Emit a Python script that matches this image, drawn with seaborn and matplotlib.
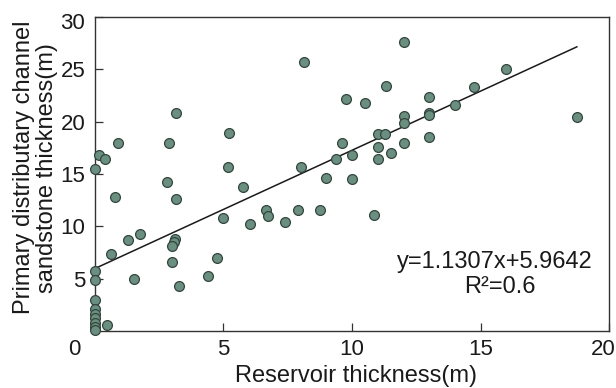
import matplotlib
matplotlib.use('Agg')
import matplotlib.pyplot as plt
import matplotlib.transforms as mtransforms
import seaborn as sns
import pandas as pd

# reservoir thickness (m)
res_thick = [0, 0, 0, 0, 0, 0, 0, 0, 0, 0,
             0.15, 0.4, 0.89, 0.77, 0.47, 0.63, 1.28, 1.74, 1.51,
             2.9, 2.8, 3.14, 3.14, 3.13, 3.06, 3.0, 3.0, 3.28, 4.39, 4.76, 5.0,
             5.16, 5.22, 5.76, 6.02, 6.64, 6.75, 7.38, 7.89, 8.0, 8.13, 8.76,
             9.0, 9.38, 9.62, 9.77, 10.0, 10.0, 10.49, 10.87,
             11.0, 11.27, 11.02, 11.02, 11.5, 11.32, 12.02, 12.02, 12.02, 12.03,
             12.99, 12.99, 12.99, 12.99, 13.99, 14.76, 16.0, 18.75]
# primary distributary channel sandstone thickness (m)
sand_thick = [15.5, 5.7, 4.9, 3.0, 2.1, 1.6, 1.2, 0.8, 0.4, 0.1,
              16.85, 16.45, 17.97, 12.85, 0.54, 7.4, 8.7, 9.28, 4.93,
              17.97, 14.2, 12.66, 20.8, 8.75, 8.49, 8.14, 6.62, 4.34, 5.3, 6.99, 10.75,
              15.7, 18.92, 13.77, 10.2, 11.6, 10.97, 10.4, 11.53, 15.68, 25.7, 11.55,
              14.6, 16.46, 17.98, 22.14, 16.86, 14.55, 21.78, 11.13,
              18.8, 18.8, 17.59, 16.44, 17.02, 23.45, 20.5, 19.88, 18.0, 27.6,
              22.33, 20.83, 20.61, 18.51, 21.56, 23.28, 25.0, 20.45]

slope = 1.1307
intercept = 5.9642
r2 = 0.6

df = pd.DataFrame({'res': res_thick, 'sand': sand_thick})
fit_x = [0, max(res_thick)]
fit_y = [slope * v + intercept for v in fit_x]

sns.set_style('ticks')
plt.rcParams['font.family'] = ['Liberation Sans', 'DejaVu Sans']

fig = plt.figure(figsize=(6.16, 3.88), dpi=100)
ax = fig.add_axes([0.154, 0.147, 0.835, 0.809])

sns.lineplot(x=fit_x, y=fit_y, color='#1a1a1a', linewidth=1.1, ax=ax, zorder=2)
sns.scatterplot(data=df, x='res', y='sand', s=50, color='#6a8f80',
                edgecolor='#33463e', linewidth=0.9, ax=ax, zorder=3, clip_on=False)

ax.set_xlim(0, 20)
ax.set_ylim(0, 30)
ax.set_xticks([0, 5, 10, 15, 20])
ax.set_yticks([5, 10, 15, 20, 25, 30])
ax.tick_params(direction='in', length=6, width=0.9, color='#333333',
               labelsize=16, labelcolor='#1a1a1a')
ax.tick_params(axis='x', pad=6)
ax.tick_params(axis='y', pad=7)
for sp in ax.spines.values():
    sp.set_visible(True)
    sp.set_color('#333333')
    sp.set_linewidth(1.0)

# nudge corner labels like the original
xl = ax.get_xticklabels()
xl[0].set_transform(xl[0].get_transform() +
                    mtransforms.ScaledTranslation(-15 / 72, 0, fig.dpi_scale_trans))
xl[-1].set_transform(xl[-1].get_transform() +
                     mtransforms.ScaledTranslation(-4 / 72, 0, fig.dpi_scale_trans))
yl = ax.get_yticklabels()
yl[-1].set_transform(yl[-1].get_transform() +
                     mtransforms.ScaledTranslation(0, -3 / 72, fig.dpi_scale_trans))

ax.set_xlabel('Reservoir thickness(m)', fontsize=17, color='#1a1a1a')
ax.set_ylabel('Primary distributary channel\nsandstone thickness(m)',
              fontsize=17, color='#1a1a1a', linespacing=1.05)
ax.xaxis.set_label_coords(0.508, -0.108)
ax.yaxis.set_label_coords(-0.072, 0.52)

ax.text(15.57, 6.55, f'y={slope}x+{intercept}', ha='center', va='center',
        fontsize=17, color='#1a1a1a')
ax.text(15.75, 4.2, f'R\u00b2={r2}', ha='center', va='center',
        fontsize=17, color='#1a1a1a')

fig.savefig('out.png', dpi=100)
